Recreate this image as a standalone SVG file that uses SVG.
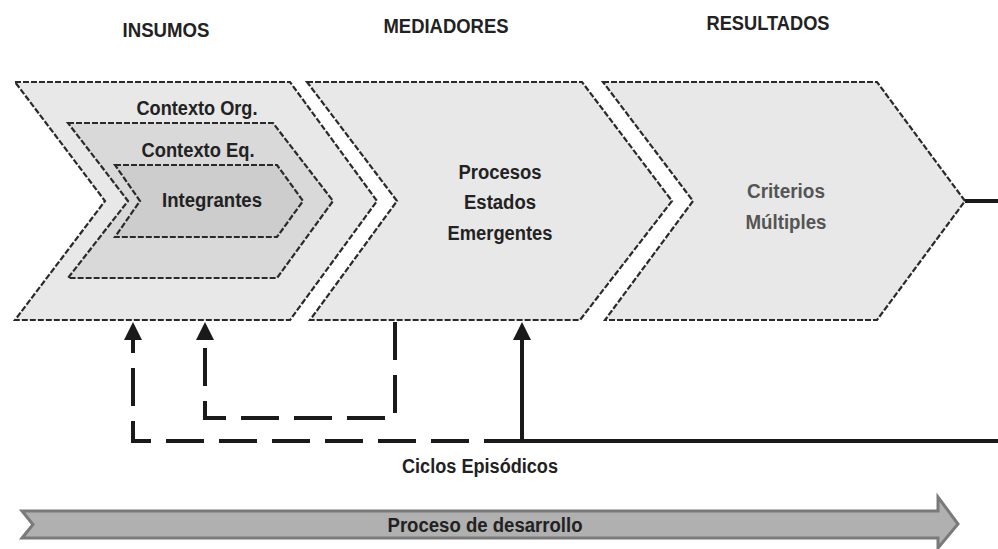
<svg xmlns="http://www.w3.org/2000/svg" width="998" height="549" viewBox="0 0 998 549">
<style>
  text { font-family: "Liberation Sans", Arial, sans-serif; font-weight: bold; fill: #222; text-anchor: middle; }
  .hdr { font-size: 20px; }
  .lbl { font-size: 20px; }
  .gray { fill: #555; }
  .chev { stroke: #2a2a2a; stroke-width: 2.2; stroke-dasharray: 6 2; }
  .c1 { fill: #e8e8e8; }
  .c2 { fill: #d9d9d9; }
  .c3 { fill: #cdcdcd; }
  .conn { fill: none; stroke: #1a1a1a; stroke-width: 4; }
  .dash { stroke-dasharray: 38 15; }
</style>
<defs>
  <marker id="ah" viewBox="0 0 18 18" refX="10" refY="9" markerWidth="18" markerHeight="18" markerUnits="userSpaceOnUse" orient="auto">
    <path d="M0,0 L18,9 L0,18 Z" fill="#1a1a1a"/>
  </marker>
</defs>
<rect width="998" height="549" fill="#fff"/>

<g id="headers">
  <text class="hdr" x="166" y="37" textLength="87" lengthAdjust="spacingAndGlyphs">INSUMOS</text>
  <text class="hdr" x="446" y="33" textLength="125" lengthAdjust="spacingAndGlyphs">MEDIADORES</text>
  <text class="hdr" x="768" y="30" textLength="123" lengthAdjust="spacingAndGlyphs">RESULTADOS</text>
</g>

<g id="insumos">
  <polygon class="chev c1" points="15,82 290,82 377,201 290,320 15,320 105,201"/>
  <text class="lbl" x="197" y="115" textLength="121" lengthAdjust="spacingAndGlyphs">Contexto Org.</text>
</g>
<g id="contexto-eq">
  <polygon class="chev c2" points="68,123 273,123 333,201 277,278 68,278 128,201"/>
  <text class="lbl" x="198" y="157" textLength="113" lengthAdjust="spacingAndGlyphs">Contexto Eq.</text>
</g>
<g id="integrantes">
  <polygon class="chev c3" points="115,165 277,165 303,201 277,237 115,237 140,201"/>
  <text class="lbl" x="212" y="207" textLength="100" lengthAdjust="spacingAndGlyphs">Integrantes</text>
</g>

<g id="mediadores">
  <polygon class="chev c1" points="307,82 582,82 672,201 580,320 310,320 397,201"/>
  <text class="lbl" x="500" y="179" textLength="83" lengthAdjust="spacingAndGlyphs">Procesos</text>
  <text class="lbl" x="500" y="209" textLength="72" lengthAdjust="spacingAndGlyphs">Estados</text>
  <text class="lbl" x="500" y="240" textLength="105" lengthAdjust="spacingAndGlyphs">Emergentes</text>
</g>

<g id="resultados">
  <polygon class="chev c1" points="603,82 877,82 965,201 877,320 605,320 693,201"/>
  <text class="lbl gray" x="786" y="198" textLength="78" lengthAdjust="spacingAndGlyphs">Criterios</text>
  <text class="lbl gray" x="786" y="229" textLength="81" lengthAdjust="spacingAndGlyphs">Múltiples</text>
</g>

<g id="connectors">
  <path class="conn" d="M965,201 H998"/>
  <path class="conn" d="M998,441 H522"/>
  <path class="conn" d="M522,441 V330" marker-end="url(#ah)"/>
  <path class="conn dash" d="M522,441 H133 V330" marker-end="url(#ah)"/>
  <path class="conn dash" d="M395,322 V418 H205 V330" marker-end="url(#ah)"/>
</g>

<g id="ciclos-label">
  <text class="lbl" x="480" y="473" textLength="156" lengthAdjust="spacingAndGlyphs">Ciclos Episódicos</text>
</g>

<g id="proceso-desarrollo">
  <polygon points="22,511 938,511 938,497 958,524 938,548 938,538 22,538 33,524.5" fill="#b0b0b0" stroke="#7a7a7a" stroke-width="3" stroke-linejoin="miter"/>
  <text class="lbl" x="485" y="532" textLength="195" lengthAdjust="spacingAndGlyphs">Proceso de desarrollo</text>
</g>
</svg>
